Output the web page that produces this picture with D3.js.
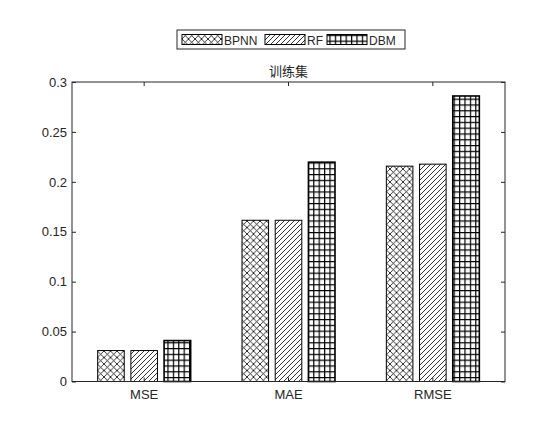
<!DOCTYPE html>
<html>
<head>
<meta charset="utf-8">
<script src="https://cdn.jsdelivr.net/npm/d3@7"></script>
<style>
  body { margin: 0; background: #fff; }
  text { font-family: "Liberation Sans", Arial, sans-serif; fill: #262626; }
</style>
</head>
<body>
<svg id="chart" width="560" height="421"></svg>
<script>
// data
const categories = ["MSE", "MAE", "RMSE"];
const seriesNames = ["BPNN", "RF", "DBM"];
const bpnn = [0.031, 0.1615, 0.2157];
const rf = [0.031, 0.1615, 0.2177];
const dbm = [0.041, 0.2197, 0.286];
const yTicks = [0, 0.05, 0.1, 0.15, 0.2, 0.25, 0.3];
const title = "训练集";

const values = { BPNN: bpnn, RF: rf, DBM: dbm };

const svg = d3.select("#chart");
const plotLeft = 72, plotRight = 505, plotTop = 82, plotBottom = 381.5;

// hatch patterns
const defs = svg.append("defs");
const cross = defs.append("pattern").attr("id", "p-BPNN")
   .attr("patternUnits", "userSpaceOnUse").attr("width", 6.5).attr("height", 6.5);
cross.append("path").attr("d", "M0,0L6.5,6.5M0,6.5L6.5,0")
   .attr("stroke", "#000").attr("stroke-width", 0.8);

const diag = defs.append("pattern").attr("id", "p-RF")
   .attr("patternUnits", "userSpaceOnUse").attr("width", 5).attr("height", 5);
diag.append("path").attr("d", "M0,5L5,0M-1,1L1,-1M4,6L6,4")
   .attr("stroke", "#000").attr("stroke-width", 0.8);

const grid = defs.append("pattern").attr("id", "p-DBM")
   .attr("patternUnits", "userSpaceOnUse").attr("width", 5.4).attr("height", 5.8);
grid.append("path").attr("d", "M0.6,0V5.8M0,0.6H5.4")
   .attr("stroke", "#000").attr("stroke-width", 1.2);

const x = d3.scaleBand().domain(categories).range([plotLeft, plotRight]).padding(0);
const xs = d3.scaleBand().domain(seriesNames).range([-46.5, 46.5]).paddingInner(0.2);
const y = d3.scaleLinear().domain([0, 0.3]).range([plotBottom, plotTop]);

// bars
seriesNames.forEach(s => {
  svg.append("g").selectAll("rect")
    .data(categories.map((c, i) => ({ c, v: values[s][i] })))
    .enter().append("rect")
    .attr("x", d => x(d.c) + x.bandwidth() / 2 + xs(s))
    .attr("y", d => y(d.v))
    .attr("width", xs.bandwidth())
    .attr("height", d => plotBottom - y(d.v))
    .attr("fill", "url(#p-" + s + ")")
    .attr("stroke", "#000")
    .attr("stroke-width", s === "DBM" ? 1.6 : 1);
});

// axes box
const axisColor = "#262626";
svg.append("rect").attr("x", plotLeft).attr("y", plotTop)
   .attr("width", plotRight - plotLeft).attr("height", plotBottom - plotTop)
   .attr("fill", "none").attr("stroke", axisColor).attr("stroke-width", 1);

const yAxis = d3.axisLeft(y).tickValues(yTicks).tickSizeInner(-4).tickSizeOuter(0)
   .tickPadding(5).tickFormat(d => String(+d.toFixed(2)));
const gy = svg.append("g").attr("transform", `translate(${plotLeft},0)`).call(yAxis);
const gyr = svg.append("g").attr("transform", `translate(${plotRight},0)`)
   .call(d3.axisRight(y).tickValues(yTicks).tickSizeInner(-4).tickSizeOuter(0).tickFormat(""));

const xAxis = d3.axisBottom(x).tickSizeInner(-4).tickSizeOuter(0).tickPadding(8);
const gx = svg.append("g").attr("transform", `translate(0,${plotBottom})`).call(xAxis);
const gxt = svg.append("g").attr("transform", `translate(0,${plotTop})`)
   .call(d3.axisTop(x).tickSizeInner(-4).tickSizeOuter(0).tickFormat(""));

[gy, gyr, gx, gxt].forEach(g => {
  g.select(".domain").remove();
  g.selectAll("line").attr("stroke", axisColor);
  g.selectAll("text").attr("font-size", 13).attr("fill", "#262626")
   .attr("font-family", "'Liberation Sans', Arial, sans-serif");
});

// title
svg.append("text").attr("x", (plotLeft + plotRight) / 2).attr("y", 76)
   .attr("text-anchor", "middle").attr("font-size", 13)
   .style("font-family", "'Noto Sans CJK SC', sans-serif")
   .text(title);

// legend
const legend = svg.append("g");
legend.append("rect").attr("x", 177).attr("y", 30).attr("width", 228).attr("height", 19)
   .attr("fill", "#fff").attr("stroke", axisColor).attr("stroke-width", 1);
const legX = [182, 265, 327];
seriesNames.forEach((s, i) => {
  legend.append("rect").attr("x", legX[i]).attr("y", 34.5).attr("width", 40).attr("height", 10)
    .attr("fill", "url(#p-" + s + ")").attr("stroke", "#000").attr("stroke-width", 1);
  legend.append("text").attr("x", legX[i] + 42).attr("y", 44.5)
    .attr("font-size", 12).text(s);
});
</script>
</body>
</html>
